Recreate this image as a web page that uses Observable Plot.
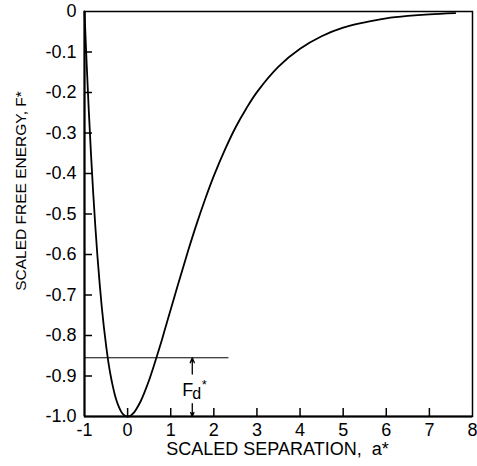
<!DOCTYPE html>
<html>
<head>
<meta charset="utf-8">
<script src="https://cdn.jsdelivr.net/npm/d3@7"></script>
<script src="https://cdn.jsdelivr.net/npm/@observablehq/plot@0.6"></script>
<style>
  html, body { margin: 0; padding: 0; background: #fff; }
</style>
</head>
<body>
<div id="chart"></div>
<script>
// Curve: scaled separation a* and scaled free energy F*
const sepA = [-1, -0.95, -0.9, -0.85, -0.8, -0.75, -0.7, -0.65, -0.6, -0.55, -0.5, -0.45, -0.4, -0.35, -0.3, -0.25, -0.2, -0.15, -0.1, -0.05, 0, 0.05, 0.1, 0.15, 0.2, 0.3, 0.4, 0.5, 0.6, 0.7, 0.8, 0.9, 1.0, 1.2, 1.4, 1.6, 1.8, 2.0, 2.25, 2.5, 2.75, 3.0, 3.5, 4.0, 4.5, 5.0, 5.5, 6.0, 6.5, 7.0, 7.6];
const energyF = [0, -0.129, -0.246, -0.351, -0.445, -0.529, -0.604, -0.670, -0.729, -0.780, -0.824, -0.863, -0.895, -0.922, -0.945, -0.963, -0.977, -0.988, -0.995, -0.999, -1.0, -0.999, -0.995, -0.990, -0.982, -0.963, -0.938, -0.910, -0.878, -0.844, -0.809, -0.772, -0.736, -0.663, -0.592, -0.525, -0.463, -0.406, -0.343, -0.287, -0.240, -0.199, -0.136, -0.092, -0.061, -0.040, -0.027, -0.017, -0.011, -0.007, -0.004];

// Axis ticks and labels
const xTicks = [-1, 0, 1, 2, 3, 4, 5, 6, 7, 8];
const xTickLabels = ["-1", "0", "1", "2", "3", "4", "5", "6", "7", "8"];
const yTicks = [0, -0.1, -0.2, -0.3, -0.4, -0.5, -0.6, -0.7, -0.8, -0.9, -1.0];
const yTickLabels = ["0", "-0.1", "-0.2", "-0.3", "-0.4", "-0.5", "-0.6", "-0.7", "-0.8", "-0.9", "-1.0"];

// Fd* annotation (data units)
const fdLevel = -0.855;
const fdLineStart = -1;
const fdLineEnd = 2.35;
const fdArrowX = 1.5;
const fdUpArrow = [-0.895, -0.855];
const fdDownArrow = [-0.968, -1.0];
const fdLabelY = -0.949;

const xLabel = "SCALED SEPARATION,\u00a0\u00a0a*";
const yLabel = "SCALED FREE ENERGY, F*";

const curve = sepA.map((a, i) => ({a, F: energyF[i]}));

const W = 477, H = 466;
const mL = 84, mR = 5, mT = 11, mB = 50;
const innerW = W - mL - mR, innerH = H - mT - mB;
const tickLen = 8;
const font = "'Liberation Sans', Arial, Helvetica, sans-serif";

const chart = Plot.plot({
  width: W,
  height: H,
  marginLeft: mL,
  marginRight: mR,
  marginTop: mT,
  marginBottom: mB,
  style: {fontFamily: font, fontSize: "18px", color: "#000", background: "#fff"},
  x: {domain: [-1, 8], axis: null},
  y: {domain: [-1, 0], axis: null},
  marks: [
    // tick labels through the scales
    Plot.text(xTicks, {x: d => d, text: (d, i) => xTickLabels[i], frameAnchor: "bottom", textAnchor: "middle", lineAnchor: "middle", dy: 14, fontSize: 18, fill: "#000"}),
    Plot.text(yTicks, {y: d => d, text: (d, i) => yTickLabels[i], frameAnchor: "left", textAnchor: "end", lineAnchor: "middle", dx: -8, fontSize: 18, fill: "#000"}),
    // inward ticks
    Plot.tickY(yTicks.slice(1, -1), {y: d => d, insetRight: innerW - tickLen, stroke: "#000", strokeWidth: 1.5}),
    Plot.tickX(xTicks.slice(1, -1), {x: d => d, insetTop: innerH - tickLen, stroke: "#000", strokeWidth: 1.5}),
    // frame
    Plot.frame({stroke: "#000", strokeWidth: 1.5}),
    Plot.ruleX([-1], {stroke: "#000", strokeWidth: 2}),
    Plot.ruleY([-1], {stroke: "#000", strokeWidth: 2}),
    // Fd* level line and arrows
    Plot.ruleY([fdLevel], {x1: fdLineStart, x2: fdLineEnd, stroke: "#000", strokeWidth: 1}),
    Plot.arrow([{x: fdArrowX, y1: fdUpArrow[0], y2: fdUpArrow[1]}, {x: fdArrowX, y1: fdDownArrow[0], y2: fdDownArrow[1]}],
      {x1: "x", x2: "x", y1: "y1", y2: "y2", stroke: "#000", strokeWidth: 1.3, headLength: 7, headAngle: 45}),
    Plot.text(["F"], {x: fdArrowX, y: fdLabelY, text: d => d, textAnchor: "start", lineAnchor: "bottom", dx: -10, fontSize: 18, fill: "#000"}),
    Plot.text(["d"], {x: fdArrowX, y: fdLabelY, text: d => d, textAnchor: "start", lineAnchor: "bottom", dx: 0, dy: 3, fontSize: 16, fill: "#000"}),
    Plot.text(["*"], {x: fdArrowX, y: fdLabelY, text: d => d, textAnchor: "start", lineAnchor: "bottom", dx: 9.5, dy: -7, fontSize: 13, fill: "#000"}),
    // curve
    Plot.line(curve, {x: "a", y: "F", curve: "catmull-rom", stroke: "#000", strokeWidth: 1.8}),
    // axis titles
    Plot.text([xLabel], {frameAnchor: "bottom", text: d => d, textAnchor: "middle", lineAnchor: "middle", dy: 33, dx: -1, fontSize: 18, fill: "#000"}),
    Plot.text([yLabel], {frameAnchor: "left", text: d => d, textAnchor: "middle", lineAnchor: "middle", rotate: -90, dx: -63, dy: -23, fontSize: 15.5, fill: "#000"})
  ]
});

document.getElementById("chart").appendChild(chart);
</script>
</body>
</html>
